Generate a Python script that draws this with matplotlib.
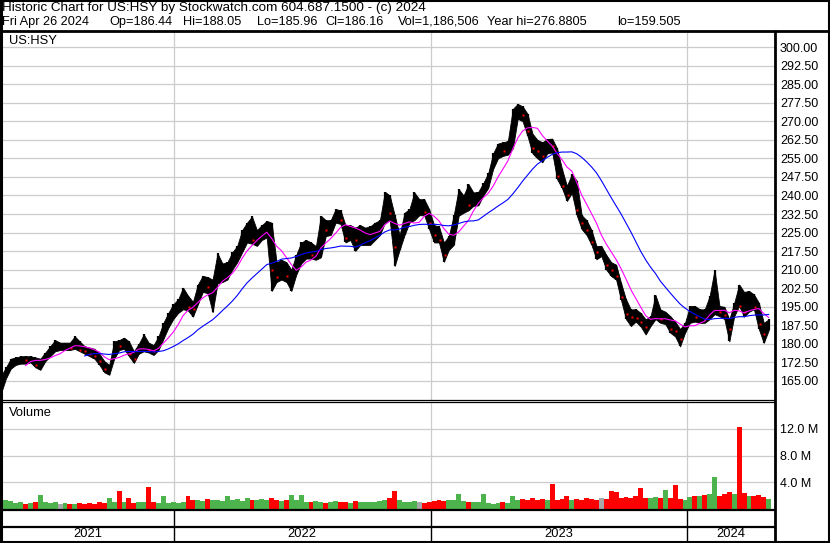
import numpy as np
import pandas as pd
import matplotlib
matplotlib.use("Agg")
import matplotlib.pyplot as plt
import matplotlib.dates as mdates

plt.rcParams['font.family'] = ['Liberation Sans', 'DejaVu Sans']

# weekly values (week ending Friday), US:HSY
week_end = pd.date_range('2021-04-30', periods=157, freq='7D')

price_low = [
    160, 166, 170, 171.5, 172, 172, 172.5, 170.5, 169.5, 173,
    175, 177, 177.5, 177.5, 177.5, 178, 177, 176, 175, 174,
    171.5, 168.5, 167.5, 174, 177.5, 178, 175, 172.3, 176, 177,
    176.5, 175.5, 177.5, 182, 186.5, 190, 192.5, 194, 193.5, 191,
    196, 201, 200.5, 192.8, 204.5, 205, 206, 210, 213, 217,
    221, 220.5, 219.6, 222, 223, 201.4, 205, 206, 205, 201.4,
    208, 212.5, 214.5, 214.5, 214, 215, 223.6, 224, 229, 228.5,
    221, 222, 217.6, 220, 220, 220, 222, 224, 229, 230,
    211.5, 218, 224, 229, 230, 232, 232, 226.4, 221, 221,
    213.2, 218, 220, 231.8, 233, 234, 235.8, 236, 240, 243,
    250.7, 255, 256, 256.5, 259, 271, 270, 264, 257, 255,
    253.4, 257, 257.4, 246.6, 243, 237.8, 241, 232, 226.4, 224,
    220, 214.2, 215.5, 210, 207.4, 206, 197.7, 190, 187.2, 189,
    187, 183.8, 187.2, 190, 188.5, 188, 184.5, 183, 179, 184.5,
    188.5, 189, 188.5, 188.5, 190, 192, 191.2, 190, 181, 191.2,
    195.3, 191, 193, 194, 186, 180.4, 185.5]

price_high = [
    167, 170.5, 174, 174.5, 175, 175, 175, 174.5, 174, 176.5,
    179, 181.5, 180.5, 180.5, 180.5, 183, 181, 179, 178.5, 178,
    176, 173, 171.5, 181, 181.5, 182.5, 181, 177, 180, 183.8,
    180.5, 179.5, 183, 188.5, 192.5, 196, 198, 202.7, 199.5, 197,
    204, 207.5, 207, 206, 216.6, 212.5, 213, 217, 219.6, 226,
    229, 231.5, 226, 228, 229.7, 229, 213, 214, 213, 210,
    216, 221, 222, 221, 219.5, 231.8, 230, 230, 234.5, 234,
    228, 228, 227, 228, 227, 227.5, 229, 230, 241.5, 240,
    232, 224, 233, 234.5, 241.2, 238.5, 238.5, 234.5, 228, 227.5,
    221, 223.6, 232, 242.6, 240, 244.6, 241.2, 241.5, 245, 249,
    257, 261, 261.5, 262, 275, 277, 276, 273, 265, 262.5,
    261.5, 262.8, 263, 259, 250.7, 243.9, 248.6, 246, 232, 230,
    226, 219.6, 219.6, 216, 213, 212, 204.6, 198, 193.9, 194,
    192.5, 189.9, 191.2, 199.7, 193.9, 193, 191.2, 189, 186, 188.5,
    195.3, 195.3, 194, 193.9, 199.3, 209.9, 195.3, 195, 189.9, 196.6,
    204, 201, 201.4, 200, 196.6, 188.5, 189.9]

price_close = [
    165, 168.5, 173, 173.5, 174, 173.5, 174.5, 171.5, 173, 175.5,
    178, 179, 179, 179.5, 178.5, 181.5, 177.5, 177, 176, 175,
    173, 170, 170.5, 179.5, 179, 180.5, 176, 174, 178.5, 180,
    177.5, 177, 182, 187, 191, 194, 195.5, 199, 195, 194,
    203, 205, 203, 204, 208, 209, 211.5, 215.5, 218.5, 225,
    226, 222, 224, 226, 228, 210, 207, 211, 207.5, 209,
    214, 218, 219, 216, 216.5, 229, 226, 229, 232, 230,
    223, 225, 222, 224, 225, 226, 227, 229, 238, 233,
    219, 222, 231, 233, 235, 235, 233.5, 229, 224, 222,
    216, 221.5, 231, 237, 238, 236, 239, 240, 244.5, 248,
    255, 258.5, 258, 260, 273.5, 274, 272.5, 266, 259, 258,
    256, 261, 260, 248, 244, 240, 246, 234, 229, 226,
    221, 217, 217, 212, 210, 207.5, 199, 192, 191, 190.5,
    189, 187, 190, 194, 190, 191, 186, 185, 182, 187,
    193, 191, 192, 190, 197, 198, 193, 191.5, 186, 196,
    195.5, 193, 198, 195, 188, 184, 186.16]

volume_m = [
    1.3, 1.4, 1.2, 0.9, 1.0, 0.8, 0.9, 1.0, 2.1, 1.0,
    0.9, 1.1, 0.8, 0.9, 0.7, 0.8, 0.9, 0.8, 0.9, 0.8,
    1.0, 0.9, 1.6, 1.1, 2.7, 1.0, 1.6, 0.9, 1.0, 1.1,
    3.3, 1.0, 0.9, 1.9, 0.9, 1.0, 0.9, 1.0, 2.0, 1.3,
    1.4, 1.2, 1.5, 1.3, 1.4, 1.2, 2.0, 1.3, 1.5, 1.2,
    1.6, 1.4, 1.3, 1.5, 1.4, 1.7, 1.3, 1.2, 1.4, 2.1,
    1.3, 2.1, 1.1, 1.0, 1.2, 1.1, 0.9, 1.0, 1.2, 1.1,
    1.0, 0.9, 1.2, 1.1, 1.0, 1.0, 1.1, 1.2, 1.3, 1.6,
    2.7, 1.3, 1.0, 1.1, 1.2, 1.0, 0.9, 1.0, 1.2, 1.3,
    1.2, 1.4, 1.3, 2.2, 1.2, 1.0, 1.1, 1.0, 2.2, 0.9,
    0.8, 0.9, 1.0, 0.9, 1.9, 1.4, 1.5, 1.3, 1.6, 1.4,
    1.5, 1.3, 3.7, 1.4, 1.5, 1.9, 1.4, 1.5, 1.3, 1.6,
    1.5, 1.4, 1.6, 1.5, 2.7, 2.5, 1.7, 1.8, 1.6, 1.9,
    3.1, 1.7, 1.6, 1.8, 1.7, 2.8, 1.7, 3.6, 1.5, 1.4,
    1.8, 2.0, 1.9, 2.1, 2.2, 4.8, 2.0, 2.3, 2.6, 2.2,
    12.3, 2.4, 2.0, 1.9, 2.1, 1.8, 1.5]

price_ticks = [165 + 7.5 * i for i in range(19)]
volume_ticks = [4, 8, 12]
years = ['2021', '2022', '2023', '2024']
year_starts = pd.to_datetime(['2022-01-01', '2023-01-01', '2024-01-01'])

header1 = "Historic Chart for US:HSY by Stockwatch.com 604.687.1500 - (c) 2024"
header2 = ["Fri Apr 26 2024", "Op=186.44", "Hi=188.05", "Lo=185.96", "Cl=186.16",
           "Vol=1,186,506", "Year hi=276.8805", "lo=159.505"]
header2_x = [2, 109, 183, 257, 325, 398, 487, 617]

W, H = 830, 543
fig = plt.figure(figsize=(8.3, 5.43), dpi=100)


def box(x0, y0, x1, y1):
    return [x0 / W, 1 - y1 / H, (x1 - x0) / W, (y1 - y0) / H]


ax = fig.add_axes(box(1, 31, 775, 400))
axv = fig.add_axes(box(1, 402, 775, 509))
axd = fig.add_axes(box(1, 509, 775, 542))

x0 = mdates.date2num(pd.Timestamp('2021-04-30'))
x1 = x0 + 1101
grid_c = '#cccccc'
fs = 9.3

close = pd.Series(price_close, index=week_end)
ma_short = close.rolling(6).mean()
ma_long = close.rolling(18).mean()

# price panel
for y in price_ticks:
    ax.axhline(y, color=grid_c, lw=0.9, zorder=0)
for d in year_starts:
    ax.axvline(d, color=grid_c, lw=0.9, zorder=0)
ax.fill_between(week_end, price_low, price_high, color='black', lw=0.6, zorder=2)
ax.vlines(week_end, price_low, price_high, color='black', lw=1.6, zorder=2)
chg = np.diff(np.array(price_close), prepend=price_close[0])
down = chg < 0
ax.plot(week_end[down] + pd.Timedelta(days=1), np.array(price_close)[down], 's',
        ms=1.6, color='red', mec='none', zorder=3)
ax.plot(week_end, ma_short, color='#ff00ff', lw=0.8, zorder=4)
ax.plot(week_end, ma_long, color='#0000ff', lw=0.8, zorder=4)
ax.set_xlim(x0, x1)
ax.set_ylim(157.3, 306.5)
ax.set_yticks(price_ticks)
ax.set_yticklabels([f"{v:.2f}" for v in price_ticks])
ax.yaxis.tick_right()
ax.set_xticks([])
ax.tick_params(axis='y', length=0, pad=3.6, labelsize=9)
ax.text(8 / 774, 1 - 10 / 369, "US:HSY", transform=ax.transAxes, fontsize=fs,
        va='center', ha='left')

# volume panel
for y in volume_ticks:
    axv.axhline(y, color=grid_c, lw=0.9, zorder=0)
for d in year_starts:
    axv.axvline(d, color=grid_c, lw=0.9, zorder=0)
vcol = np.where(chg > 0, '#4db34d', np.where(chg < 0, '#ff0000', '#a8a8a8'))
vcol[0] = '#4db34d'
axv.bar(week_end, volume_m, width=7, color=vcol, lw=0, zorder=2)
axv.set_xlim(x0, x1)
axv.set_ylim(0, 16)
axv.set_yticks(volume_ticks)
axv.set_yticklabels([f"{v:.1f} M" for v in volume_ticks])
axv.yaxis.tick_right()
axv.set_xticks([])
axv.tick_params(axis='y', length=0, pad=3.6, labelsize=9)
axv.text(8 / 774, 1 - 11 / 107, "Volume", transform=axv.transAxes, fontsize=fs,
         va='center', ha='left')

# date band
axd.set_xlim(x0, x1)
axd.set_ylim(0, 1)
axd.set_xticks([])
axd.set_yticks([])
edges = [x0] + [mdates.date2num(d) for d in year_starts] + [x1]
for e in edges[1:-1]:
    axd.axvline(e, color='black', lw=1)
for i, yr in enumerate(years):
    axd.text((edges[i] + edges[i + 1]) / 2, 0.24, yr, ha='center', va='center', fontsize=fs)

for a in (ax, axv, axd):
    for s in a.spines.values():
        s.set_visible(False)
    a.patch.set_alpha(0)

# frame lines, in pixel coordinates
ov = fig.add_axes([0, 0, 1, 1], zorder=10)
ov.set_xlim(0, W)
ov.set_ylim(H, 0)
ov.axis('off')
ov.patch.set_alpha(0)
k = dict(color='black', solid_capstyle='butt')
ov.plot([0, W], [0.7, 0.7], lw=1.5, **k)
ov.plot([1, 1], [0, H], lw=2.2, **k)
ov.plot([828.5, 828.5], [0, H], lw=1.5, **k)
ov.plot([0, W], [542.3, 542.3], lw=1.5, **k)
ov.plot([0, W], [30.5, 30.5], lw=2.0, **k)
ov.plot([774.5, 774.5], [30, H], lw=2.0, **k)
ov.plot([0, 775], [400, 400], lw=0.9, **k)
ov.plot([0, 775], [402.3, 402.3], lw=0.9, **k)
ov.plot([0, 775], [510, 510], lw=1.6, **k)
ov.plot([0, 775], [527, 527], lw=1.6, **k)

ov.text(2, 8.5, header1, fontsize=9.7, va='center', ha='left')
for txt, xp in zip(header2, header2_x):
    ov.text(xp, 22, txt, fontsize=9.2, va='center', ha='left')

fig.savefig('out.png', dpi=100)
